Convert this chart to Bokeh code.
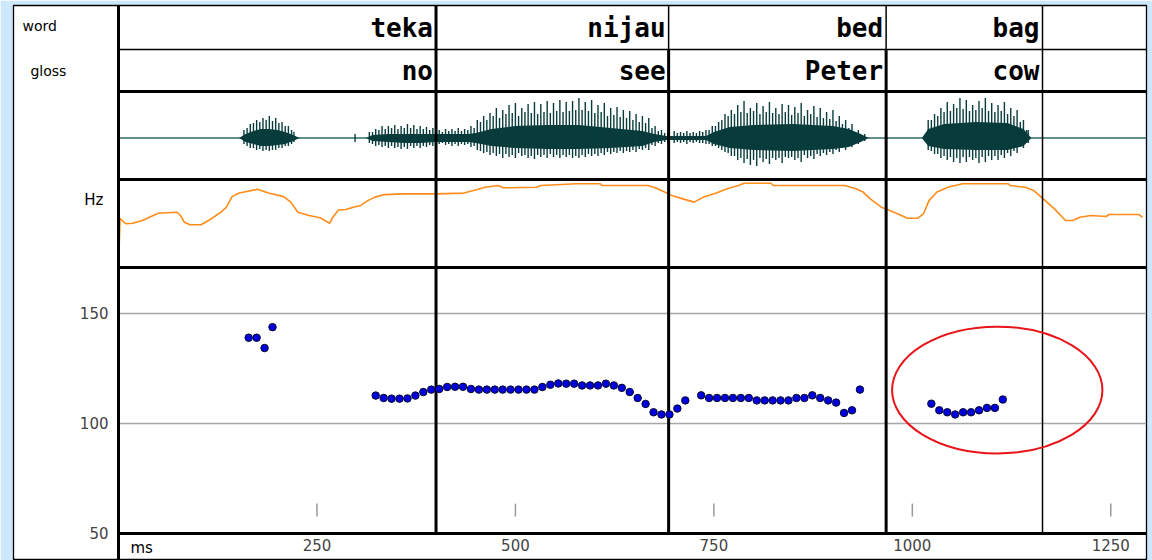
from bokeh.plotting import figure
from bokeh.models import Range1d, LinearAxis, FixedTicker
from bokeh.core.properties import value
from bokeh.embed import file_html
from bokeh.resources import INLINE

# ---------------- data ----------------
word_labels = ["teka", "nijau", "bed", "bag"]
gloss_labels = ["no", "see", "Peter", "cow"]
word_ends_ms = [400, 693, 967, 1164]

x_tick_ms = [250, 500, 750, 1000, 1250]
y_tick_hz = [50, 100, 150]
y_grid_hz = [100, 150]

# measured F0 points (ms, Hz)
f0_ms = [164, 174, 184, 194,
         324, 334, 344, 354, 364, 374, 384, 394, 404, 414,
         424, 434, 444, 454, 464, 474, 484, 494, 504, 514,
         524, 534, 544, 554, 564, 574, 584, 594, 604, 614,
         624, 634, 644, 654, 664, 674, 684, 694, 704, 714,
         734, 744, 754, 764, 774, 784, 794, 804, 814, 824,
         834, 844, 854, 864, 874, 884, 894, 904, 914, 924, 934,
         1024, 1034, 1044, 1054, 1064, 1074, 1084, 1094, 1104, 1114]
f0_hz = [139.0, 139.0, 134.3, 143.8,
         112.7, 111.6, 111.3, 111.3, 111.4, 112.7, 114.3, 115.4, 115.7, 116.6,
         116.7, 116.7, 115.7, 115.4, 115.4, 115.4, 115.4, 115.4, 115.4, 115.4,
         115.4, 116.6, 117.6, 118.2, 118.1, 118.1, 117.3, 117.3, 117.3, 118.1,
         117.3, 116.2, 114.3, 111.6, 108.9, 105.1, 104.1, 104.1, 106.8, 110.5,
         112.8, 111.6, 111.6, 111.6, 111.6, 111.6, 111.6, 110.5, 110.5, 110.5,
         110.5, 110.5, 111.6, 111.6, 112.8, 111.6, 110.5, 109.5, 104.8, 106.0, 115.4,
         109.0, 106.0, 105.1, 104.1, 105.1, 105.1, 106.0, 107.1, 107.1, 110.9]

# smoothed pitch contour (ms, Hz)
contour_ms = [0, 2, 9, 18, 30, 41, 50, 74, 78, 83, 90, 104, 115, 129, 136, 143,
              152, 175, 189, 208, 217, 226, 240, 254, 266, 270, 277, 286, 296,
              305, 314, 323, 335, 360, 401, 435, 453, 462, 478, 485, 527, 532,
              577, 607, 609, 667, 676, 688, 697, 711, 725, 737, 753, 767, 781,
              788, 822, 825, 915, 929, 938, 947, 961, 980, 994, 1007, 1014,
              1021, 1031, 1045, 1063, 1121, 1123, 1142, 1153, 1165, 1179, 1193,
              1202, 1211, 1225, 1244, 1248, 1285, 1290]
contour_hz = [90.0, 109.6, 107.4, 107.6, 108.7, 110.3, 111.6, 112.0, 110.7,
              108.0, 107.0, 107.0, 109.0, 112.0, 114.0, 118.2, 119.6, 121.1,
              119.6, 118.2, 116.0, 112.0, 110.7, 109.8, 107.6, 110.0, 112.9,
              113.1, 114.0, 114.7, 116.6, 118.0, 119.0, 119.3, 119.3, 119.6,
              121.1, 121.9, 122.6, 121.7, 121.9, 122.6, 123.3, 123.3, 122.6,
              122.6, 121.7, 120.0, 118.6, 117.3, 116.0, 118.0, 119.6, 121.3,
              122.6, 123.5, 123.5, 122.6, 122.6, 121.3, 120.0, 117.3, 114.0,
              111.6, 109.6, 109.6, 111.3, 116.6, 120.0, 121.9, 123.3, 123.3,
              122.6, 121.9, 120.6, 117.3, 113.3, 108.7, 108.7, 110.0, 110.7,
              110.3, 111.1, 111.1, 110.0]

# waveform: amplitude envelope of the dense part (positive up / positive down)
env_ms = [0, 152, 160, 170, 180, 190, 200, 210, 220, 228, 312, 320, 340, 360,
          380, 400, 420, 440, 450, 470, 500, 540, 580, 620, 660, 675, 690, 700,
          740, 750, 770, 800, 850, 900, 920, 935, 945, 1012, 1020, 1040, 1080,
          1120, 1140, 1150, 1295]
env_up = [0, 0, 4, 7, 9, 9, 8, 6, 3, 0, 0, 3, 4, 4, 4, 4, 4, 4, 5, 9, 12,
          13, 13, 10, 7, 4, 2, 2, 2, 6, 11, 13, 14, 12, 9, 4, 0, 0, 9, 14,
          16, 15, 9, 0, 0]
env_down = [0, 0, 4, 6, 8, 8, 7, 6, 3, 0, 0, 3, 4, 5, 5, 4, 4, 4, 5, 8, 10,
            11, 11, 10, 8, 4, 2, 2, 2, 6, 10, 12, 13, 11, 9, 4, 0, 0, 8, 11,
            12, 12, 8, 0, 0]

# waveform: main glottal pulse peaks (ms, peak up, peak down)
pulse_ms = [158, 166, 174, 182, 190, 198, 206, 214, 221, 298,
            316, 324, 332, 340, 348, 356, 364, 372, 380, 388, 396,
            404, 412, 420, 428, 436, 444,
            452, 460, 468, 476, 484, 492, 500, 508, 516, 524, 532, 540, 548,
            556, 564, 572,
            580, 588, 596, 604, 612, 620, 628, 636, 644, 652, 660, 668, 676,
            684, 692,
            700, 708, 716, 724, 732, 740,
            748, 756, 764, 772, 780, 788, 796, 804, 812, 820, 828, 836, 844,
            852, 860, 868, 876, 884, 892, 900, 908, 916, 924, 932, 940,
            1020, 1028, 1036, 1044, 1052, 1060, 1068, 1076, 1084, 1092, 1100,
            1108, 1116, 1124, 1132, 1140, 1146]
pulse_up = [8, 14, 18, 20, 22, 20, 16, 12, 6, 4,
            6, 9, 12, 12, 13, 12, 14, 13, 12, 11, 10,
            8, 9, 9, 10, 9, 12,
            18, 22, 25, 30, 28, 33, 35, 30, 34, 36, 34, 37, 35, 38, 36, 37,
            40, 36, 38, 33, 35, 30, 31, 28, 27, 24, 22, 20, 12, 8, 6,
            7, 6, 7, 6, 7, 8,
            12, 16, 24, 28, 33, 37, 30, 35, 32, 36, 30, 34, 33, 31, 35, 28,
            32, 30, 26, 28, 22, 18, 14, 8, 4,
            18, 24, 30, 36, 34, 40, 38, 33, 37, 40, 35, 33, 36, 30, 28, 18, 8]
pulse_down = [6, 10, 12, 13, 13, 12, 10, 8, 4, 4,
              5, 8, 9, 10, 10, 11, 11, 10, 10, 9, 8,
              6, 7, 8, 8, 7, 9,
              12, 15, 17, 18, 20, 19, 20, 18, 20, 21, 19, 20, 19, 20, 19, 20,
              20, 19, 18, 18, 17, 16, 15, 15, 14, 14, 12, 12, 8, 6, 5,
              5, 5, 6, 5, 5, 6,
              8, 10, 14, 18, 22, 25, 27, 28, 24, 26, 22, 25, 20, 22, 24, 20,
              21, 18, 17, 16, 14, 12, 9, 6, 3,
              12, 16, 20, 22, 24, 25, 24, 22, 25, 24, 22, 22, 20, 18, 15, 10, 5]

# waveform: secondary peaks between the main pulses
pulse2_ms = [162, 170, 178, 186, 194, 202, 210, 218,
             320, 328, 336, 344, 352, 360, 368, 376, 384, 392,
             408, 416, 424, 432, 440, 448,
             456, 464, 472, 480, 488, 496, 504, 512, 520, 528, 536, 544, 552,
             560, 568, 576,
             584, 592, 600, 608, 616, 624, 632, 640, 648, 656, 664, 672, 680,
             688,
             704, 712, 720, 728, 736,
             744, 752, 760, 768, 776, 784, 792, 800, 808, 816, 824, 832, 840,
             848, 856, 864, 872, 880, 888, 896, 904, 912, 920, 928, 936,
             1024, 1032, 1040, 1048, 1056, 1064, 1072, 1080, 1088, 1096, 1104,
             1112, 1120, 1128, 1136, 1144]
pulse2_up = [10, 15, 16, 18, 17, 15, 12, 8,
             6, 8, 9, 10, 9, 10, 10, 9, 9, 8,
             6, 7, 7, 7, 8, 10,
             16, 18, 22, 20, 24, 25, 22, 26, 25, 24, 26, 25, 27, 26, 27, 28,
             28, 27, 25, 26, 22, 23, 21, 20, 18, 16, 15, 10, 7, 5,
             5, 5, 5, 5, 6,
             8, 12, 18, 22, 24, 26, 25, 27, 24, 26, 25, 24, 26, 23, 25, 22,
             24, 21, 20, 19, 17, 14, 10, 6, 3,
             18, 22, 26, 27, 30, 29, 27, 28, 30, 27, 26, 27, 24, 22, 16, 8]
pulse2_down = [8, 10, 11, 12, 12, 10, 8, 6,
               6, 7, 8, 8, 9, 9, 8, 8, 8, 7,
               5, 6, 6, 6, 6, 8,
               13, 14, 15, 16, 16, 17, 15, 17, 18, 17, 17, 16, 17, 17, 17, 18,
               17, 16, 16, 15, 14, 14, 13, 13, 12, 11, 10, 7, 5, 4,
               4, 4, 4, 4, 5,
               6, 8, 12, 15, 18, 20, 21, 22, 20, 21, 20, 20, 19, 19, 20, 17,
               18, 16, 15, 14, 12, 10, 7, 5, 3,
               13, 16, 18, 19, 20, 19, 19, 20, 19, 18, 18, 17, 15, 13, 9, 5]

# highlighted region (centre ms, centre Hz, width ms, height Hz)
mark_x, mark_y, mark_w, mark_h = 1107, 115.2, 265, 57.7

# ---------------- styling ----------------
BG = "#cde8fb"
INK = "black"
WAVE = "#083c3c"
ORANGE = "#ff8c1a"
DOT = "#0000dc"
GRID = "#a8a8a8"
SANS = "DejaVu Sans"
MONO = "DejaVu Sans Mono"

T_END = 1295
# the frame is the whole white sheet: time 0 sits at the label-column divider
p = figure(width=1152, height=560, output_backend="svg", toolbar_location=None,
           x_range=Range1d(-132.27, T_END), y_range=Range1d(37.727, 290),
           x_axis_location=None, y_axis_location=None,
           min_border_left=13, min_border_right=6, min_border_top=5,
           min_border_bottom=0, background_fill_color="white",
           border_fill_color=BG, outline_line_color=INK, outline_line_width=1.3)
p.grid.visible = False

# tier rows measured downward from the top of the sheet; waveform and
# contour have their own value scales
p.extra_y_ranges = {
    "rows": Range1d(555, 0),
    "wave": Range1d(-422.5, 132.5),
    "contour": Range1d(-26.52, 194.2),
}

# pitch panel grid and time marks
p.segment(x0=0, x1=T_END, y0=y_grid_hz, y1=y_grid_hz,
          line_color=GRID, line_width=1.6)
p.segment(x0=x_tick_ms, x1=x_tick_ms, y0=57.7, y1=63.6,
          line_color="#9a9a9a", line_width=1.5)

# waveform
p.segment(x0=0, x1=T_END, y0=0, y1=0, y_range_name="wave",
          line_color="#2d6868", line_width=1.4)
p.varea(x=env_ms, y1=[-v for v in env_down], y2=env_up, y_range_name="wave",
        fill_color=WAVE)
p.segment(x0=pulse2_ms, x1=pulse2_ms, y0=[-v for v in pulse2_down],
          y1=pulse2_up, y_range_name="wave", line_color=WAVE, line_width=1.4)
p.segment(x0=pulse_ms, x1=pulse_ms, y0=[-v for v in pulse_down], y1=pulse_up,
          y_range_name="wave", line_color=WAVE, line_width=1.4)

# contour
p.line(contour_ms, contour_hz, y_range_name="contour", line_color=ORANGE,
       line_width=1.6)

# tier grid lines
for y, w in [(44, 1.3), (86, 3), (174, 3), (262, 3)]:
    p.segment(x0=0, x1=T_END, y0=y, y1=y, y_range_name="rows",
              line_color=INK, line_width=w)
p.segment(x0=0, x1=0, y0=0, y1=555, y_range_name="rows",
          line_color=INK, line_width=3)
p.segment(x0=word_ends_ms, x1=word_ends_ms, y0=0, y1=44, y_range_name="rows",
          line_color=INK, line_width=[3, 1.5, 1.5, 1.5])
p.segment(x0=word_ends_ms, x1=word_ends_ms, y0=44, y1=528, y_range_name="rows",
          line_color=INK, line_width=[3, 3, 3, 1.5])

# tier texts
p.text(x=word_ends_ms, y=22, text=word_labels, y_range_name="rows",
       x_offset=-3, text_align="right", text_baseline="middle",
       text_font=value(MONO), text_font_style="bold", text_font_size="26px",
       text_color=INK)
p.text(x=word_ends_ms, y=65, text=gloss_labels, y_range_name="rows",
       x_offset=-3, text_align="right", text_baseline="middle",
       text_font=value(MONO), text_font_style="bold", text_font_size="26px",
       text_color=INK)

# F0 points and highlight
p.scatter(f0_ms, f0_hz, size=7.5, fill_color=DOT, line_color="#0a0a30",
          line_width=1)
p.ellipse(x=mark_x, y=mark_y, width=mark_w, height=mark_h, fill_color=None,
          line_color="#e8141a", line_width=2)

# axes pinned to the panel edges inside the sheet
yaxis = LinearAxis(ticker=FixedTicker(ticks=y_tick_hz), fixed_location=0,
                   axis_line_color=None, major_tick_line_color=None,
                   minor_tick_line_color=None, major_tick_out=0,
                   major_tick_in=0, major_label_standoff=10,
                   major_label_text_font=SANS,
                   major_label_text_font_size="15px")
p.add_layout(yaxis, "left")
xaxis = LinearAxis(ticker=FixedTicker(ticks=x_tick_ms), fixed_location=50,
                   bounds=(0, T_END), axis_line_color=INK, axis_line_width=3,
                   major_tick_line_color=None, minor_tick_line_color=None,
                   major_tick_out=0, major_tick_in=0, major_label_standoff=6,
                   major_label_text_font=SANS,
                   major_label_text_font_size="15px")
p.add_layout(xaxis, "below")

# left column labels and time unit
p.text(x=[-121, -111], y=[20, 65], text=["word", "gloss"], y_range_name="rows",
       text_font=value(SANS), text_font_size="14px", text_baseline="middle",
       text_color=INK)
p.text(x=[-19], y=[194], text=["Hz"], y_range_name="rows",
       text_font=value(SANS), text_font_size="15px", text_align="right",
       text_baseline="middle", text_color=INK)
p.text(x=[15], y=[43.6], text=["ms"], text_font=value(SANS),
       text_font_size="15px", text_baseline="middle", text_color=INK)

open("out.html", "w").write(file_html(p, INLINE))
